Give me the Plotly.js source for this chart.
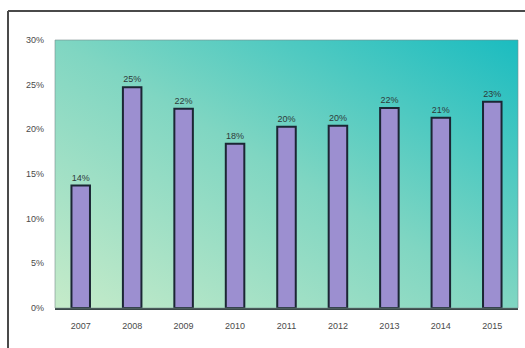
<!DOCTYPE html>
<html>
<head>
<meta charset="utf-8">
<script src="https://cdn.plot.ly/plotly-3.0.1.min.js"></script>
<style>html,body{margin:0;padding:0;background:#fff;}#chart{width:525px;height:348px;}</style>
</head>
<body>
<div id="chart"></div>
<script>
const years = ['2007','2008','2009','2010','2011','2012','2013','2014','2015'];
const values = [13.7, 24.7, 22.3, 18.4, 20.3, 20.4, 22.4, 21.3, 23.1];
const labels = ['14%','25%','22%','18%','20%','20%','22%','21%','23%'];
const yTicks = [0,5,10,15,20,25,30];
const yTickText = ['0%','5%','10%','15%','20%','25%','30%'];

const svg = '<svg xmlns="http://www.w3.org/2000/svg" width="463" height="268" preserveAspectRatio="none" viewBox="0 0 463 268">' +
  '<defs><linearGradient id="g" x1="0" y1="1" x2="1" y2="0">' +
  '<stop offset="0" stop-color="#c6ebc9"/><stop offset="0.5" stop-color="#80d6c2"/><stop offset="1" stop-color="#1bbcc0"/>' +
  '</linearGradient></defs><rect width="463" height="268" fill="url(#g)"/></svg>';
const bg = 'data:image/svg+xml;charset=utf-8,' + encodeURIComponent(svg);

const font = 'Liberation Sans, Arial, sans-serif';

const trace = {
  type: 'bar',
  x: years,
  y: values,
  width: 0.36,
  marker: {color: '#9c8fd0', line: {color: '#1b2634', width: 2}},
  text: labels,
  textposition: 'outside',
  cliponaxis: false,
  textfont: {family: font, size: 9, color: '#2e3a3a'},
  hoverinfo: 'skip'
};

const layout = {
  width: 525, height: 348,
  margin: {l: 55, r: 7, t: 40, b: 40},
  paper_bgcolor: '#ffffff',
  plot_bgcolor: 'rgba(0,0,0,0)',
  showlegend: false,
  xaxis: {
    type: 'category',
    showgrid: false,
    zeroline: false,
    showline: true, linecolor: '#3a4848', linewidth: 1.5,
    ticks: '',
    ticklabelstandoff: 9,
    tickfont: {family: font, size: 9, color: '#4a4a4a'}
  },
  yaxis: {
    range: [0, 30],
    tickvals: yTicks,
    ticktext: yTickText,
    showgrid: false,
    zeroline: false,
    showline: false,
    ticks: '',
    ticklabelstandoff: 10,
    tickfont: {family: font, size: 9, color: '#4a4a4a'}
  },
  images: [{
    source: bg, xref: 'paper', yref: 'paper', x: 0, y: 1, sizex: 1, sizey: 1,
    sizing: 'stretch', xanchor: 'left', yanchor: 'top', layer: 'below'
  }],
  shapes: [
    {type: 'rect', xref: 'paper', yref: 'paper', x0: 0, x1: 1, y0: 0, y1: 1,
     line: {color: 'rgba(120,140,140,0.6)', width: 1}, fillcolor: 'rgba(0,0,0,0)', layer: 'above'},
    {type: 'line', xref: 'paper', yref: 'paper', x0: -0.1015, x1: 1.1, y0: 1.108, y1: 1.108,
     line: {color: '#4a4a4a', width: 2}},
    {type: 'line', xref: 'paper', yref: 'paper', x0: -0.1015, x1: -0.1015, y0: -0.4, y1: 1.108,
     line: {color: '#4a4a4a', width: 2}}
  ]
};

Plotly.newPlot('chart', [trace], layout, {staticPlot: true, displayModeBar: false});
</script>
</body>
</html>
